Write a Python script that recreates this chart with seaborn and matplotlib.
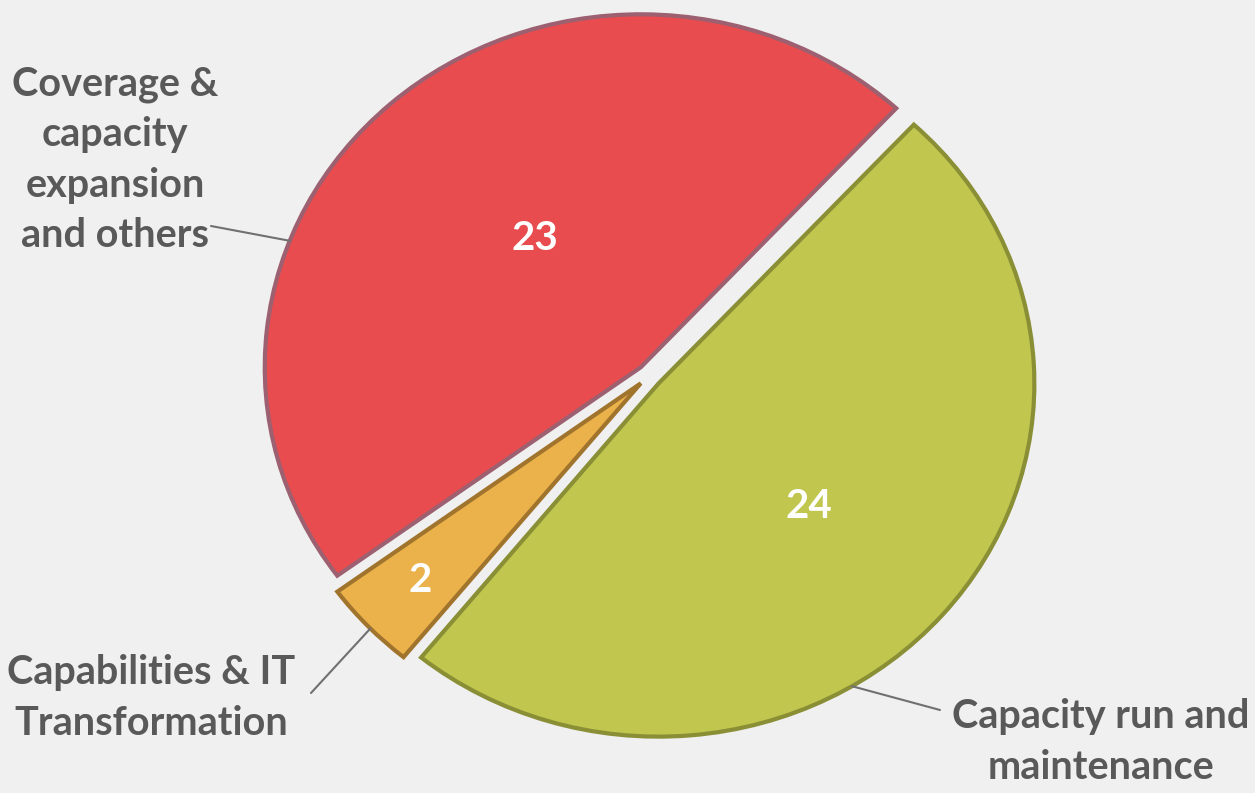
import matplotlib
matplotlib.use("Agg")
import matplotlib.pyplot as plt
import seaborn as sns
import numpy as np

# data
categories = [
    "Capacity run and\nmaintenance",
    "Capabilities & IT\nTransformation",
    "Coverage &\ncapacity\nexpansion\nand others",
]
values = [24, 2, 23]
colors = ["#C0C64E", "#EBB14A", "#E84C4E"]
edge_colors = ["#8A8F36", "#A0742C", "#9C6070"]

sns.set_theme(style="white")
plt.rcParams['font.family'] = ['Lato', 'DejaVu Sans']

W, H = 1255, 793
BG = "#F0F0F0"
TXT = "#595959"

fig = plt.figure(figsize=(W / 100, H / 100), dpi=100, facecolor=BG)
ax = fig.add_axes([0, 0, 1, 1])
ax.set_facecolor(BG)

# pie centre and radii in pixels (the original is slightly wider than tall)
RX, RY = 376, 353
CX, CY = 649, 376


def px(x, y):
    return ((x - CX) / RX, (CY - y) / RY)


wedges, _ = ax.pie(
    values,
    colors=colors,
    startangle=47.2,
    counterclock=False,
    explode=[0.033, 0.03, 0.033],
    radius=1,
    center=(0, 0),
    wedgeprops=dict(linewidth=3),
)
for w, ec in zip(wedges, edge_colors):
    w.set_edgecolor(ec)

ax.set_xlim(-CX / RX, (W - CX) / RX)
ax.set_ylim(-(H - CY) / RY, CY / RY)
ax.set_aspect('auto')
ax.axis('off')

# value labels inside the slices
value_frac = [0.53, 0.81, 0.46]
value_shift = [0, 0, -4]
for w, v, f, s in zip(wedges, values, value_frac, value_shift):
    mid = np.deg2rad((w.theta1 + w.theta2) / 2 + s)
    x0, y0 = w.center
    ax.text(x0 + f * w.r * np.cos(mid), y0 + f * w.r * np.sin(mid), str(v),
            color="white", fontsize=29, fontweight="bold",
            ha="center", va="center")

# category labels with leader lines
line_angle = [-59, 224, 159]
line_end = [(940, 710), (311, 693), (211, 226)]
label_pos = [(1101, 742), (151, 698), (115, 160)]
for w, cat, a, le, lp in zip(wedges, categories, line_angle, line_end, label_pos):
    x0, y0 = w.center
    ar = np.deg2rad(a)
    sx, sy = x0 + w.r * np.cos(ar), y0 + w.r * np.sin(ar)
    ex, ey = px(*le)
    ax.plot([sx, ex], [sy, ey], color="#707070", lw=1.5)
    tx, ty = px(*lp)
    ax.text(tx, ty, cat, color=TXT, fontsize=28.5, fontweight="bold",
            ha="center", va="center", linespacing=1.45)

fig.savefig("out.png", dpi=100, facecolor=BG)
